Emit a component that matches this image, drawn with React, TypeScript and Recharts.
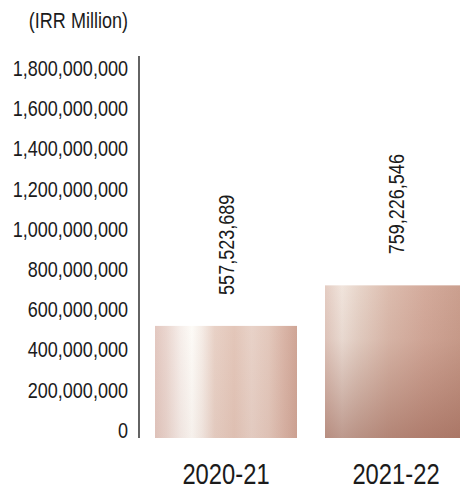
import { Bar, BarChart, LabelList, XAxis, YAxis } from "recharts";

// Revenue by fiscal year, IRR
const years = ["2020-21", "2021-22"];
const revenue = [557523689, 759226546];
const yTicks = [0, 200000000, 400000000, 600000000, 800000000, 1000000000, 1200000000, 1400000000, 1600000000, 1800000000];
const yMax = 1900000000;

const data = years.map((year, i) => ({ year, revenue: revenue[i] }));

const FONT = '"Liberation Sans", Arial, sans-serif';
const NARROW = 0.82; // squeeze Liberation Sans to an Arial Narrow width
const INK = "#1b1b1b";

const fmt = (v: number) => v.toLocaleString("en-US");

function YTick({ x, y, payload }: any) {
  return (
    <g transform={`translate(${x},${y - 8}) scale(${NARROW},1)`}>
      <text x={0} y={0} dy="0.355em" textAnchor="end" fontFamily={FONT} fontSize={22} fill={INK}>
        {fmt(payload.value)}
      </text>
    </g>
  );
}

function XTick({ x, y, payload }: any) {
  return (
    <g transform={`translate(${x},${y + 46}) scale(${NARROW},1)`}>
      <text x={0} y={0} textAnchor="middle" fontFamily={FONT} fontSize={29} fill={INK}>
        {payload.value}
      </text>
    </g>
  );
}

function ValueLabel({ x, y, width, value }: any) {
  const cx = Number(x) + Number(width) / 2;
  return (
    <g transform={`translate(${cx},${Number(y) - 31}) rotate(-90) scale(${NARROW},1)`}>
      <text x={0} y={0} dy="0.355em" textAnchor="start" fontFamily={FONT} fontSize={22} fill={INK}>
        {fmt(Number(value))}
      </text>
    </g>
  );
}

// copper foil look: a horizontal sheen plus a darkening toward the bottom
function FoilBar({ x, y, width, height, index }: any) {
  return (
    <g>
      <rect x={x} y={y} width={width} height={height} fill={`url(#foil-${index})`} />
      <rect x={x} y={y} width={width} height={height} fill={`url(#shade-${index})`} />
    </g>
  );
}

export default function App() {
  return (
    <div style={{ position: "fixed", left: 0, top: 0, width: 460, height: 490, overflow: "hidden", background: "#fff" }}>
      <svg width={460} height={40} style={{ position: "absolute", left: 0, top: 0 }}>
        <g transform={`translate(128,28) scale(${NARROW},1)`}>
          <text x={0} y={0} textAnchor="end" fontFamily={FONT} fontSize={22} fill={INK}>
            (IRR Million)
          </text>
        </g>
      </svg>
      <BarChart width={482} height={490} data={data} margin={{ top: 56, right: 1, bottom: 0, left: 0 }}>
        <defs>
          <linearGradient id="foil-0" x1="0" y1="0" x2="1" y2="0">
            <stop offset="0%" stopColor="#e3c8c0" />
            <stop offset="8%" stopColor="#ead6cf" />
            <stop offset="18%" stopColor="#f6eeea" />
            <stop offset="26%" stopColor="#fdfbf7" />
            <stop offset="33%" stopColor="#f5ece6" />
            <stop offset="42%" stopColor="#e8d1c6" />
            <stop offset="56%" stopColor="#e3c6b9" />
            <stop offset="68%" stopColor="#e8d2c8" />
            <stop offset="80%" stopColor="#e3c8bc" />
            <stop offset="91%" stopColor="#d9b4a6" />
            <stop offset="100%" stopColor="#cfa596" />
          </linearGradient>
          <linearGradient id="shade-0" x1="0" y1="0" x2="0" y2="1">
            <stop offset="0%" stopColor="#8a4e3e" stopOpacity={0} />
            <stop offset="100%" stopColor="#8a4e3e" stopOpacity={0.06} />
          </linearGradient>
          <linearGradient id="foil-1" x1="0" y1="0" x2="1" y2="0">
            <stop offset="0%" stopColor="#e4ccc2" />
            <stop offset="12%" stopColor="#f0e4dc" />
            <stop offset="24%" stopColor="#e7d4c9" />
            <stop offset="45%" stopColor="#dcbcae" />
            <stop offset="70%" stopColor="#d4ab9c" />
            <stop offset="100%" stopColor="#c99d8c" />
          </linearGradient>
          <linearGradient id="shade-1" x1="0" y1="0" x2="0" y2="1">
            <stop offset="0%" stopColor="#8a4e3e" stopOpacity={0} />
            <stop offset="35%" stopColor="#8a4e3e" stopOpacity={0.08} />
            <stop offset="70%" stopColor="#8a4e3e" stopOpacity={0.3} />
            <stop offset="100%" stopColor="#8a4e3e" stopOpacity={0.5} />
          </linearGradient>
        </defs>
        <XAxis
          dataKey="year"
          height={52}
          axisLine={false}
          tickLine={false}
          tickSize={0}
          tickMargin={0}
          padding={{ left: 2, right: 0 }}
          tick={<XTick />}
          interval={0}
        />
        <YAxis
          width={139}
          domain={[0, yMax]}
          ticks={yTicks}
          interval={0}
          tickLine={false}
          tickSize={0}
          tickMargin={11}
          axisLine={{ stroke: "#222", strokeWidth: 1.4 }}
          tick={<YTick />}
        />
        <Bar dataKey="revenue" barSize={142} shape={<FoilBar />} isAnimationActive={false}>
          <LabelList dataKey="revenue" content={<ValueLabel />} />
        </Bar>
      </BarChart>
    </div>
  );
}
